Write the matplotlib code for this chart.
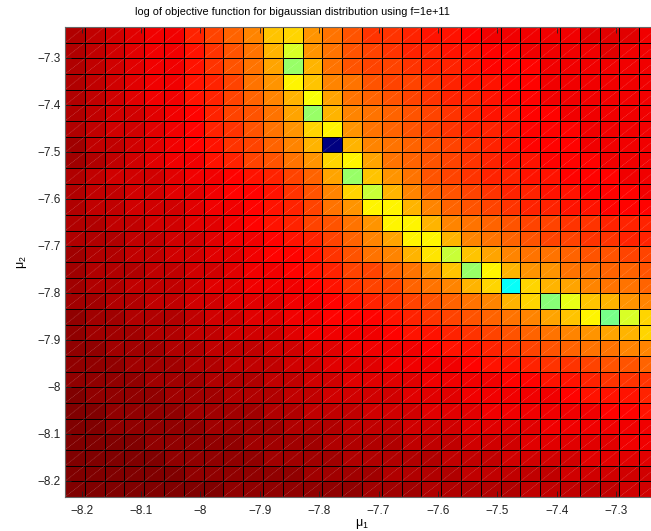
import numpy as np
import matplotlib
matplotlib.use("Agg")
import matplotlib.pyplot as plt
from matplotlib.collections import LineCollection
from matplotlib.colors import LinearSegmentedColormap
from matplotlib.ticker import FixedLocator, FuncFormatter

plt.rcParams['font.family'] = ['Liberation Sans', 'DejaVu Sans']
plt.rcParams['mathtext.fontset'] = 'custom'
plt.rcParams['mathtext.rm'] = 'Liberation Sans'
plt.rcParams['mathtext.it'] = 'Liberation Sans'

# grid of mu1 / mu2 (cell edges)
mu1_edges = np.linspace(-8.228, -7.228, 31)
mu2_edges = np.linspace(-8.235, -7.235, 31)

# normalized log objective; rows listed from top (mu2 high) to bottom (mu2 low)
row00 = [.94, .925, .91, .905, .89, .875, .84, .81, .775, .74, .675, .66, .725, .765, .79,
         .82, .825, .84, .845, .85, .87, .875, .875, .88, .885, .89, .895, .895, .895, .89]
row01 = [.94, .925, .91, .9, .885, .875, .845, .82, .79, .75, .695, .59, .725, .76, .785,
         .81, .82, .83, .835, .845, .855, .865, .87, .875, .88, .885, .89, .895, .89, .89]
row02 = [.945, .925, .915, .9, .89, .875, .85, .82, .79, .7625, .71, .525, .70, .75, .785,
         .80, .81, .82, .83, .84, .85, .86, .865, .87, .875, .88, .885, .89, .89, .89]
row03 = [.945, .925, .915, .905, .89, .875, .855, .84, .80, .765, .725, .64, .675, .74, .765,
         .785, .80, .81, .82, .835, .845, .855, .865, .87, .875, .88, .885, .89, .89, .89]
row04 = [.945, .93, .915, .905, .89, .875, .855, .835, .80, .775, .74, .69, .61, .71, .75,
         .78, .795, .805, .815, .83, .84, .85, .86, .87, .875, .875, .88, .885, .885, .89]
row05 = [.95, .93, .92, .91, .895, .88, .86, .84, .81, .79, .75, .71, .53, .70, .74,
         .765, .78, .795, .81, .82, .835, .845, .855, .865, .87, .875, .88, .885, .885, .885]
row06 = [.95, .935, .92, .91, .895, .88, .865, .84, .815, .79, .765, .725, .66, .63, .725,
         .75, .77, .785, .80, .815, .83, .84, .85, .86, .865, .87, .875, .88, .885, .885]
row07 = [.955, .935, .925, .91, .90, .885, .87, .845, .825, .80, .775, .74, .695, 0.0, .695,
         .74, .765, .78, .795, .81, .825, .835, .85, .86, .865, .87, .875, .88, .88, .885]
row08 = [.955, .94, .925, .915, .90, .89, .875, .85, .83, .81, .79, .765, .725, .66, .63,
         .71, .75, .775, .79, .81, .825, .835, .845, .855, .86, .865, .87, .875, .875, .88]
row09 = [.94, .93, .92, .915, .91, .905, .89, .875, .86, .845, .83, .80, .775, .71, .525,
         .675, .725, .76, .785, .80, .815, .83, .84, .85, .855, .86, .865, .87, .875, .875]
row10 = [.945, .935, .925, .92, .91, .905, .895, .88, .87, .86, .845, .82, .79, .74, .67,
         .575, .695, .745, .775, .79, .805, .82, .83, .84, .85, .855, .86, .865, .87, .875]
row11 = [.945, .935, .93, .92, .915, .91, .90, .89, .875, .865, .85, .83, .80, .765, .725,
         .64, .6375, .695, .74, .77, .79, .805, .82, .83, .84, .85, .855, .86, .865, .87]
row12 = [.95, .94, .935, .925, .92, .9125, .905, .895, .875, .865, .85, .83, .81, .785, .76,
         .725, .625, .625, .70, .74, .765, .775, .79, .80, .805, .815, .825, .83, .84, .84]
row13 = [.95, .945, .94, .93, .925, .915, .91, .90, .885, .875, .86, .845, .83, .805, .78,
         .745, .7125, .625, .63, .70, .74, .76, .775, .79, .80, .81, .82, .825, .835, .84]
row14 = [.955, .95, .945, .935, .93, .92, .915, .905, .895, .885, .87, .86, .845, .825, .795,
         .765, .74, .70, .65, .57, .68, .71, .74, .75, .765, .775, .79, .795, .80, .805]
row15 = [.96, .95, .945, .94, .935, .925, .92, .91, .90, .89, .875, .865, .85, .83, .81,
         .80, .775, .75, .725, .675, .53, .64, .70, .725, .73, .75, .76, .775, .78, .79]
row16 = [.965, .95, .945, .935, .93, .925, .915, .905, .90, .89, .885, .875, .86, .845, .825,
         .81, .80, .775, .75, .74, .70, .66, .375, .66, .69, .71, .74, .75, .76, .775]
row17 = [.965, .955, .945, .94, .935, .93, .92, .91, .90, .895, .895, .885, .875, .86, .845,
         .84, .825, .81, .79, .775, .75, .74, .70, .66, .51, .605, .675, .695, .72, .74]
row18 = [.97, .96, .955, .945, .94, .94, .93, .92, .91, .905, .905, .89, .875, .87, .86,
         .86, .855, .84, .825, .80, .79, .775, .75, .74, .71, .675, .6375, .49, .59, .66]
row19 = [.975, .965, .96, .955, .95, .945, .935, .93, .92, .915, .9125, .90, .89, .885, .88,
         .875, .8675, .8575, .85, .8375, .82, .80, .79, .775, .75, .74, .725, .7125, .695, .67]
row20 = [.975, .97, .965, .96, .955, .95, .94, .935, .93, .925, .92, .91, .90, .895, .8875,
         .88, .875, .875, .8675, .8575, .845, .83, .82, .805, .795, .78, .7625, .75, .745, .7375]
row21 = [.98, .975, .97, .965, .96, .955, .945, .94, .935, .93, .925, .915, .91, .90, .895,
         .8925, .8875, .8825, .875, .875, .8625, .855, .845, .8325, .825, .8125, .80, .7925, .7825, .775]
row22 = [.98, .98, .975, .97, .965, .96, .955, .95, .945, .94, .935, .925, .92, .91, .905,
         .905, .90, .895, .89, .8825, .875, .875, .87, .8625, .855, .845, .835, .825, .82, .8125]
row23 = [.985, .98, .975, .975, .97, .965, .96, .955, .95, .945, .94, .935, .925, .92, .915,
         .9125, .91, .905, .90, .895, .89, .885, .88, .875, .875, .8625, .8575, .85, .845, .8375]
row24 = [.99, .985, .98, .975, .975, .97, .965, .96, .955, .955, .95, .94, .935, .93, .925,
         .92, .915, .91, .905, .90, .895, .89, .885, .8875, .88, .875, .875, .8675, .865, .8575]
row25 = [.99, .985, .98, .98, .975, .975, .97, .965, .96, .96, .955, .95, .945, .94, .935,
         .93, .925, .92, .915, .91, .905, .90, .895, .895, .89, .885, .885, .8825, .88, .875]
row26 = [.995, .99, .985, .985, .98, .98, .975, .97, .97, .965, .9625, .96, .955, .95, .945,
         .94, .9375, .935, .93, .925, .92, .915, .91, .905, .90, .8975, .895, .895, .89, .8875]
row27 = [.995, .99, .99, .985, .985, .98, .98, .975, .975, .97, .965, .965, .96, .955, .95,
         .9475, .945, .94, .9375, .9325, .93, .925, .92, .92, .915, .91, .905, .905, .90, .90]
row28 = [1.0, .995, .99, .99, .985, .985, .98, .98, .975, .975, .97, .97, .965, .96, .96,
         .955, .95, .945, .945, .94, .935, .935, .93, .925, .925, .92, .915, .915, .91, .91]
row29 = [1.0, .995, .995, .99, .99, .99, .985, .985, .98, .98, .975, .975, .97, .97, .97,
         .96, .955, .955, .95, .95, .945, .94, .94, .935, .935, .93, .925, .925, .92, .92]

rows_top_to_bottom = [row00, row01, row02, row03, row04, row05, row06, row07, row08, row09,
                      row10, row11, row12, row13, row14, row15, row16, row17, row18, row19,
                      row20, row21, row22, row23, row24, row25, row26, row27, row28, row29]

x_ticks = [-8.2, -8.1, -8.0, -7.9, -7.8, -7.7, -7.6, -7.5, -7.4, -7.3]
y_ticks = [-8.2, -8.1, -8.0, -7.9, -7.8, -7.7, -7.6, -7.5, -7.4, -7.3]
title_text = "log of objective function for bigaussian distribution using f=1e+11"

Z = np.flipud(np.array(rows_top_to_bottom))

# MATLAB-style jet colormap, 64 levels
matlab_jet = LinearSegmentedColormap.from_list(
    'matlab_jet',
    [(0.0, (0, 0, 0.5)), (0.125, (0, 0, 1)), (0.375, (0, 1, 1)),
     (0.625, (1, 1, 0)), (0.875, (1, 0, 0)), (1.0, (0.5, 0, 0))], N=64)

W, H = 651, 531
fig = plt.figure(figsize=(W / 100, H / 100), dpi=100)
ax = fig.add_axes([65 / W, 34 / H, 594 / W, 470 / H])

ax.pcolormesh(mu1_edges, mu2_edges, Z, cmap=matlab_jet, vmin=0, vmax=1,
              edgecolors='black', linewidth=0.65)

# faint triangle seams (bottom-left to top-right of each cell)
X0, Y0 = np.meshgrid(mu1_edges[:-1], mu2_edges[:-1])
X1, Y1 = np.meshgrid(mu1_edges[1:], mu2_edges[1:])
segs = np.stack([np.stack([X0.ravel(), Y0.ravel()], 1),
                 np.stack([X1.ravel(), Y1.ravel()], 1)], 1)
ax.add_collection(LineCollection(segs, colors=(1, 1, 1, 0.3), linewidths=0.4,
                                 linestyles=(0, (2, 1))))

ax.set_xlim(mu1_edges[0], mu1_edges[-1])
ax.set_ylim(mu2_edges[0], mu2_edges[-1])

fmt = FuncFormatter(lambda v, p: ('%g' % v).replace('-', '\u2212'))
ax.xaxis.set_major_locator(FixedLocator(x_ticks))
ax.yaxis.set_major_locator(FixedLocator(y_ticks))
ax.xaxis.set_major_formatter(fmt)
ax.yaxis.set_major_formatter(fmt)
ax.tick_params(direction='in', length=4, width=0.6, labelsize=8.5, colors='#222222',
               top=True, right=True)
ax.tick_params(axis='y', pad=3)
ax.tick_params(axis='x', pad=6)
for s in ax.spines.values():
    s.set_color('#666666')
    s.set_linewidth(0.8)

ax.set_xlabel(r'$\mathrm{\mu}_1$', fontsize=9, labelpad=0)
ax.set_ylabel(r'$\mathrm{\mu}_2$', fontsize=9, labelpad=6)
fig.text(292 / W, 1 - 12 / H, title_text, ha='center', va='center', fontsize=7.8)

fig.savefig('out.png', dpi=100)
